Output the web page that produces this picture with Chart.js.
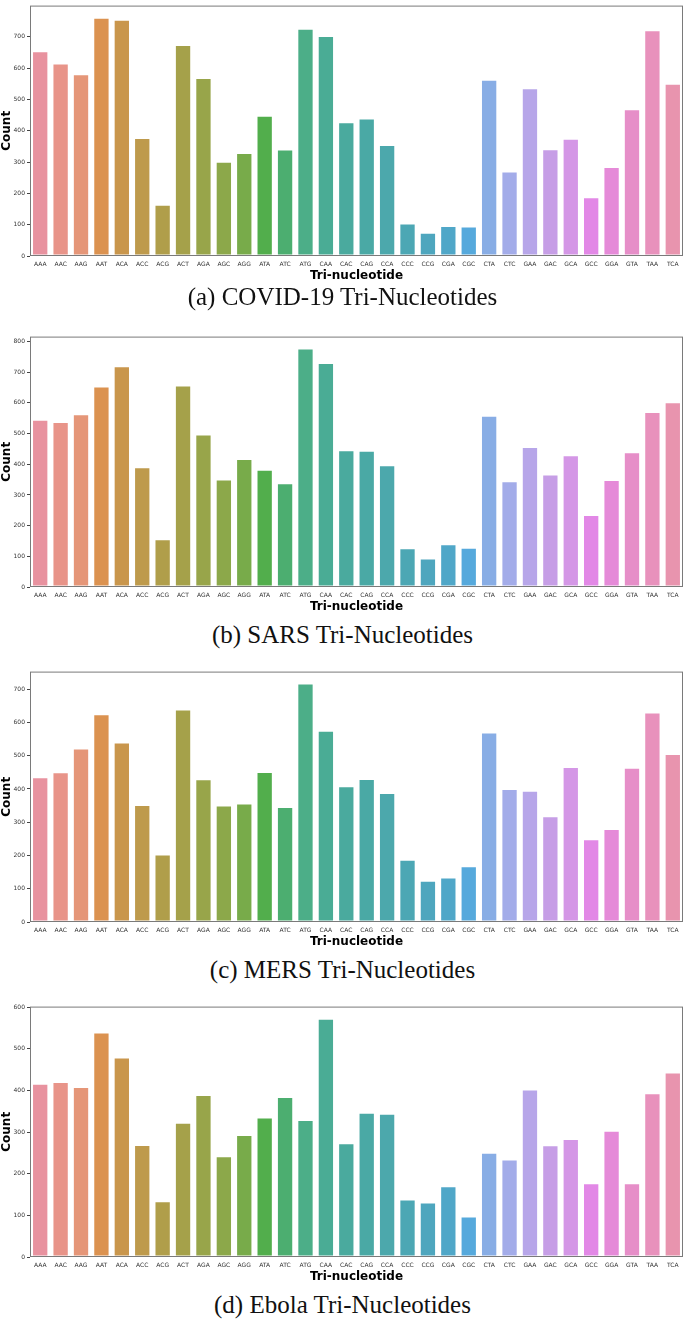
<!DOCTYPE html>
<html>
<head>
<meta charset="utf-8">
<script src="https://cdn.jsdelivr.net/npm/chart.js@4"></script>
<style>
  body { margin: 0; background: #fff; width: 685px; height: 1321px; position: relative; overflow: hidden; }
  .box { position: absolute; left: 0; width: 685px; height: 285px; }
  .cap { position: absolute; left: 0; width: 685px; text-align: center; font-family: "Liberation Serif", "DejaVu Serif", serif; font-size: 25px; color: #111; line-height: 26px; }
</style>
</head>
<body>
<div class="box" style="top:0px"><canvas id="c0"></canvas></div>
<div class="box" style="top:331px"><canvas id="c1"></canvas></div>
<div class="box" style="top:666px"><canvas id="c2"></canvas></div>
<div class="box" style="top:1001px"><canvas id="c3"></canvas></div>
<div class="cap" id="cap0" style="top:284px"></div>
<div class="cap" id="cap1" style="top:622px"></div>
<div class="cap" id="cap2" style="top:957px"></div>
<div class="cap" id="cap3" style="top:1292px"></div>
<script>
const categories = ["AAA","AAC","AAG","AAT","ACA","ACC","ACG","ACT","AGA","AGC","AGG","ATA","ATC","ATG","CAA","CAC","CAG","CCA","CCC","CCG","CGA","CGC","CTA","CTC","GAA","GAC","GCA","GCC","GGA","GTA","TAA","TCA"];

const covidCounts = [654,615,581,761,755,377,164,674,569,301,329,448,340,726,703,427,439,355,104,74,96,94,563,270,536,341,375,188,284,469,721,550];
const sarsCounts  = [545,538,563,653,719,390,156,657,497,350,417,382,338,777,730,446,444,397,126,93,139,128,558,345,456,367,429,235,349,439,570,602];
const mersCounts  = [435,450,522,625,540,352,203,639,429,350,356,451,346,717,575,408,430,388,187,124,134,168,570,400,395,318,466,249,280,464,630,505];
const ebolaCounts = [416,420,408,539,479,269,134,322,389,242,293,335,384,329,572,273,346,344,138,131,170,97,250,234,402,268,283,177,303,177,393,443];

const yMaxes = [800, 816, 753, 601];
const covidTicks = [0,100,200,300,400,500,600,700];
const sarsTicks  = [0,100,200,300,400,500,600,700,800];
const mersTicks  = [0,100,200,300,400,500,600,700];
const ebolaTicks = [0,100,200,300,400,500,600];
const captions = ["(a) COVID-19 Tri-Nucleotides", "(b) SARS Tri-Nucleotides", "(c) MERS Tri-Nucleotides", "(d) Ebola Tri-Nucleotides"];

const barColors = [
  "#e8929f","#e89489","#e59678","#db9250","#c9964c","#be9a4c","#b09e4a","#a5a14a",
  "#98a54a","#8ca84a","#78ab4a","#52ae4c","#4cae70","#4cae88","#4aac95","#4aaa9e",
  "#4aa9a5","#4ca8ac","#4ca7b4","#4ea6be","#50a7c8","#56a9dc","#88ade5","#a3ace9",
  "#b7a6e9","#c69ee6","#d497e6","#e288e6","#e58ad8","#e68ec8","#e891bc","#e894ae"
];

const frame = {
  id: "frame",
  afterDraw(chart) {
    const a = chart.chartArea;
    const ctx = chart.ctx;
    ctx.save();
    ctx.strokeStyle = "#7a7a7a";
    ctx.lineWidth = 1;
    ctx.strokeRect(a.left + 0.5, a.top + 0.5, a.right - a.left - 1, a.bottom - a.top - 1);
    ctx.restore();
  }
};

function makeChart(id, values, yMax, tickValues, padTop) {
  const ctx = document.getElementById(id).getContext("2d");
  return new Chart(ctx, {
    type: "bar",
    data: {
      labels: categories,
      datasets: [{
        data: values,
        backgroundColor: barColors,
        borderColor: "rgba(255,255,255,0.6)",
        borderWidth: 1,
        borderSkipped: false,
        categoryPercentage: 0.8,
        barPercentage: 1.0
      }]
    },
    options: {
      responsive: true,
      maintainAspectRatio: false,
      animation: false,
      layout: { padding: { top: padTop, right: 2, left: 0, bottom: 3 } },
      plugins: { legend: { display: false }, tooltip: { enabled: false } },
      scales: {
        x: {
          grid: { display: false, drawOnChartArea: false, drawTicks: true, tickLength: 3, color: "#444" },
          border: { display: false },
          ticks: { font: { family: "DejaVu Sans", size: 6 }, color: "#333", padding: 2, maxRotation: 0, autoSkip: false },
          title: { display: true, text: "Tri-nucleotide", font: { family: "DejaVu Sans", size: 12, weight: "bold", lineHeight: 1 }, color: "#000", padding: { top: 0, bottom: 0 } },
          afterFit(scale) { scale.height = 26; }
        },
        y: {
          min: 0,
          max: yMax,
          grid: { display: true, drawOnChartArea: false, drawTicks: true, tickLength: 3, color: "#444" },
          border: { display: false },
          afterBuildTicks(scale) { scale.ticks = tickValues.map(v => ({ value: v })); },
          ticks: { font: { family: "DejaVu Sans", size: 6 }, color: "#333", padding: 2 },
          title: { display: true, text: "Count", font: { family: "DejaVu Sans", size: 12, weight: "bold" }, color: "#000", padding: { top: 0, bottom: 0 } },
          afterFit(scale) { scale.width = 30; }
        }
      }
    },
    plugins: [frame]
  });
}

captions.forEach((c, i) => { document.getElementById("cap" + i).textContent = c; });

makeChart("c0", covidCounts, yMaxes[0], covidTicks, 1);
makeChart("c1", sarsCounts, yMaxes[1], sarsTicks, 4);
makeChart("c2", mersCounts, yMaxes[2], mersTicks, 4);
makeChart("c3", ebolaCounts, yMaxes[3], ebolaTicks, 4);
</script>
</body>
</html>
